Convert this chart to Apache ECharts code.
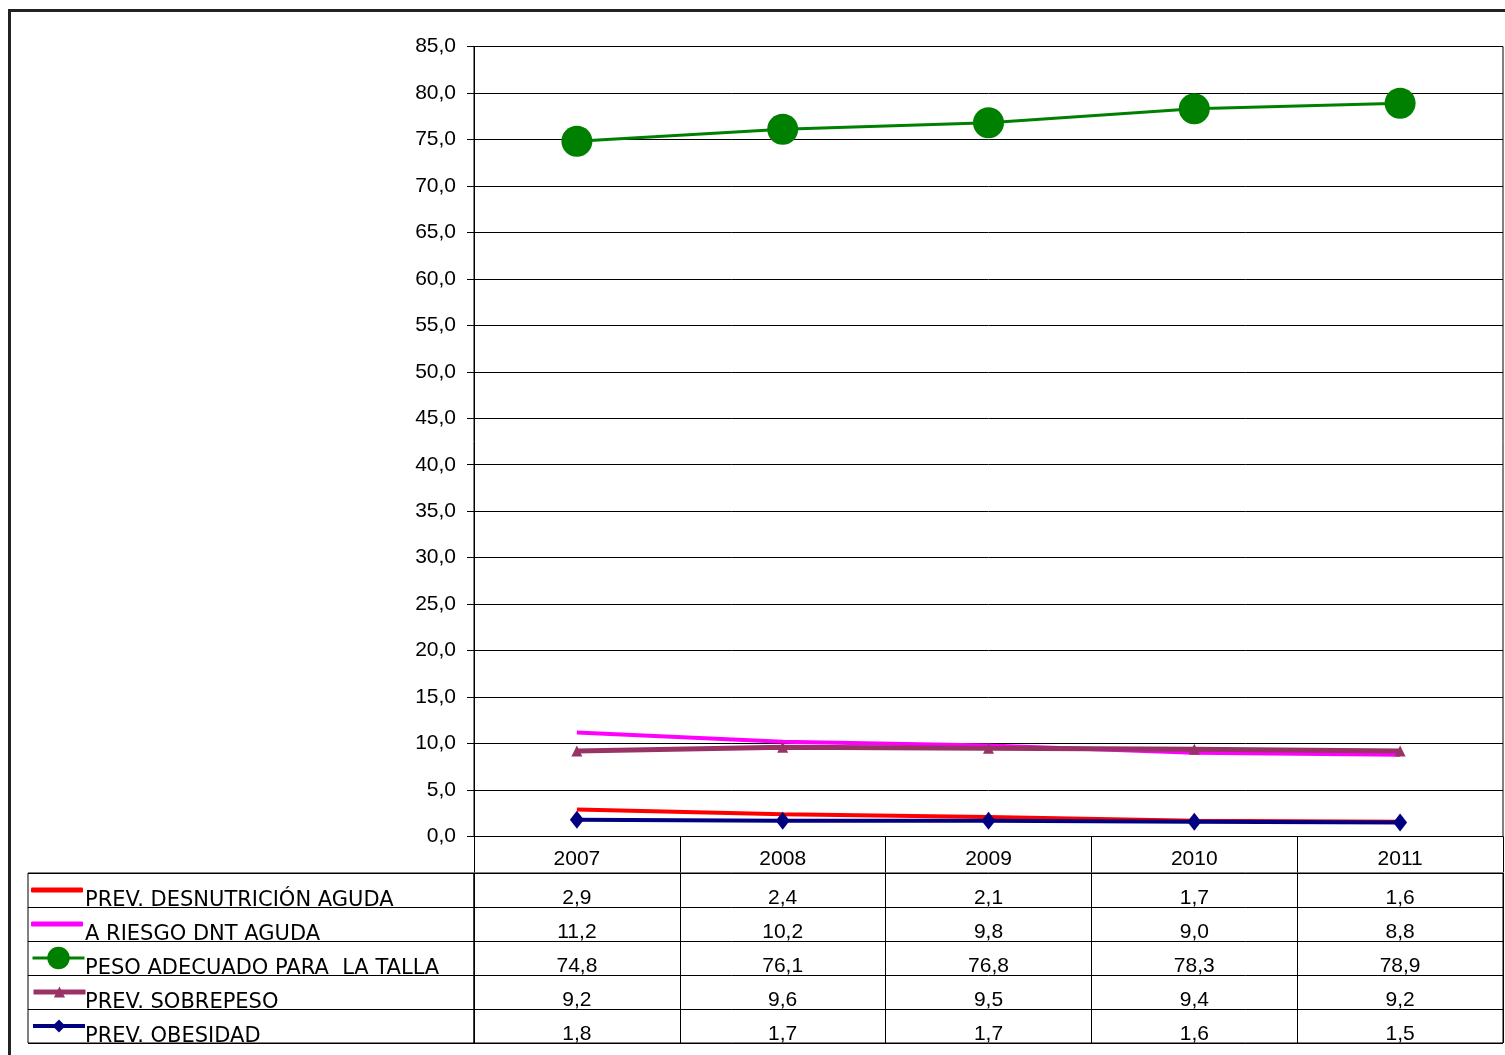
<!DOCTYPE html>
<html>
<head>
<meta charset="utf-8">
<script src="https://cdn.jsdelivr.net/npm/echarts@6/dist/echarts.min.js"></script>
<style>
html,body{margin:0;padding:0;background:#fff;}
#chart{width:1505px;height:1055px;}
</style>
</head>
<body>
<div id="chart"></div>
<script>
const years = ['2007', '2008', '2009', '2010', '2011'];
const seriesNames = [
  'PREV. DESNUTRICIÓN AGUDA',
  'A RIESGO DNT AGUDA',
  'PESO ADECUADO PARA  LA TALLA',
  'PREV. SOBREPESO',
  'PREV. OBESIDAD'
];
const desnutricion = [2.9, 2.4, 2.1, 1.7, 1.6];
const riesgoDnt = [11.2, 10.2, 9.8, 9.0, 8.8];
const pesoAdecuado = [74.8, 76.1, 76.8, 78.3, 78.9];
const sobrepeso = [9.2, 9.6, 9.5, 9.4, 9.2];
const obesidad = [1.8, 1.7, 1.7, 1.6, 1.5];
const yTicks = { min: 0, max: 85, interval: 5 };

const allValues = [desnutricion, riesgoDnt, pesoAdecuado, sobrepeso, obesidad];
const colors = ['#FF0000', '#FF00FF', '#008000', '#993366', '#000080'];
const symbols = ['none', 'none', 'circle', 'triangle', 'diamond'];
const symbolSizes = [0, 0, 31, 11, [14, 18]];
const lineWidths = [4, 4, 3, 5, 4];
const legendHeights = [5, 5, 28, 14, 16];
const legendLineWidths = [4, 4, 3, 5, 4];
const legendIcons = ['roundRect', 'roundRect', null, null, null];

const fmt = v => v.toFixed(1).replace('.', ',');
const numFont = 'Liberation Sans';
const txtFont = 'DejaVu Sans';

const lineSeries = seriesNames.map((name, i) => ({
  name: name,
  type: 'line',
  xAxisIndex: 0,
  yAxisIndex: 0,
  data: allValues[i],
  symbol: symbols[i],
  symbolSize: symbolSizes[i],
  showSymbol: symbols[i] !== 'none',
  color: colors[i],
  lineStyle: { color: colors[i], width: lineWidths[i] },
  itemStyle: { color: colors[i] },
  silent: true,
  animation: false
}));

const cellData = [];
allValues.forEach((arr, i) => {
  arr.forEach((v, j) => cellData.push([years[j], seriesNames[i], v]));
});

const tableSeries = {
  name: 'tabla',
  type: 'scatter',
  xAxisIndex: 1,
  yAxisIndex: 1,
  data: cellData,
  symbolSize: 1,
  itemStyle: { color: 'rgba(0,0,0,0)' },
  silent: true,
  animation: false,
  label: {
    show: true,
    position: 'inside',
    offset: [0, 8],
    formatter: p => fmt(p.value[2]),
    fontFamily: numFont,
    fontSize: 21,
    color: '#000',
    opacity: 1
  }
};

const rowTop = 873, rowH = 34;
const legends = seriesNames.map((name, i) => {
  const lg = {
    data: [name],
    left: 31,
    top: rowTop + i * rowH + rowH / 2 - legendHeights[i] / 2,
    itemWidth: 52,
    itemHeight: legendHeights[i],
    itemGap: 0,
    padding: 0,
    selectedMode: false,
    formatter: () => '',
    textStyle: { fontSize: 1 },
    lineStyle: { width: legendLineWidths[i] }
  };
  if (legendIcons[i]) lg.icon = legendIcons[i];
  return lg;
});

const blackLine = { color: '#000', width: 1 };

const option = {
  backgroundColor: '#fff',
  animation: false,
  legend: legends,
  graphic: [{
    type: 'rect',
    shape: { x: 9.5, y: 10.5, width: 1700, height: 1200 },
    style: { fill: 'none', stroke: '#222', lineWidth: 3 },
    silent: true
  }],
  grid: [
    { left: 474, right: 2, top: 46.5, height: 790, show: true, borderColor: '#000', borderWidth: 1, backgroundColor: 'transparent' },
    { left: 474, right: 2, top: 873, height: 170, show: true, borderColor: '#000', borderWidth: 1, backgroundColor: 'transparent' },
    { left: 28, width: 446, top: 873, height: 170, show: true, borderColor: '#000', borderWidth: 1, backgroundColor: 'transparent' }
  ],
  xAxis: [
    {
      type: 'category', gridIndex: 0, data: years, boundaryGap: true,
      axisLine: { show: true, lineStyle: blackLine },
      axisTick: { show: true, length: 36, interval: 0, lineStyle: blackLine },
      axisLabel: { fontFamily: numFont, fontSize: 21, color: '#000', margin: 12, interval: 0 },
      splitLine: { show: false }
    },
    {
      type: 'category', gridIndex: 1, data: years, boundaryGap: true,
      axisLine: { show: false }, axisTick: { show: false }, axisLabel: { show: false },
      splitLine: { show: true, interval: 0, lineStyle: blackLine }
    },
    { type: 'value', gridIndex: 2, show: false, min: 0, max: 1 }
  ],
  yAxis: [
    {
      type: 'value', gridIndex: 0, min: yTicks.min, max: yTicks.max, interval: yTicks.interval,
      axisLine: { show: true, lineStyle: blackLine },
      axisTick: { show: true, length: 7, lineStyle: blackLine },
      axisLabel: { formatter: v => fmt(v), fontFamily: numFont, fontSize: 21, color: '#000', margin: 18 },
      splitLine: { show: true, lineStyle: blackLine }
    },
    {
      type: 'category', gridIndex: 1, data: seriesNames, inverse: true,
      axisLine: { show: false }, axisTick: { show: false }, axisLabel: { show: false },
      splitLine: { show: true, interval: 0, lineStyle: blackLine }
    },
    {
      type: 'category', gridIndex: 2, data: seriesNames, inverse: true,
      axisLine: { show: false }, axisTick: { show: false },
      axisLabel: {
        show: true, inside: true, margin: 57, interval: 0,
        fontFamily: txtFont, fontSize: 21, color: '#000',
        verticalAlign: 'top'
      },
      splitLine: { show: true, interval: 0, lineStyle: blackLine }
    }
  ],
  series: lineSeries.concat([tableSeries])
};

const chart = echarts.init(document.getElementById('chart'), null, { renderer: 'canvas' });
chart.setOption(option);
</script>
</body>
</html>
